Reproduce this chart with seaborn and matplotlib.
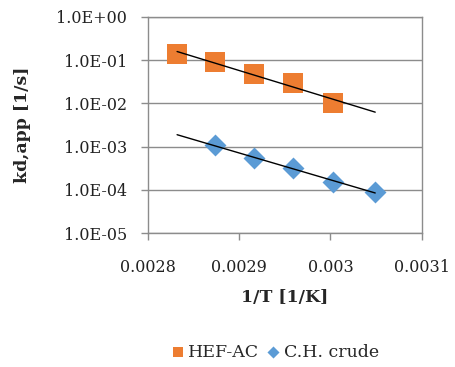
import numpy as np
import pandas as pd
import seaborn as sns
import matplotlib.pyplot as plt

# data
hef_x = [0.002832, 0.002874, 0.002916, 0.002959, 0.003003]
hef_kd = [0.137, 0.091, 0.048, 0.030, 0.010]
ch_x = [0.002874, 0.002916, 0.002959, 0.003003, 0.003049]
ch_kd = [0.00107, 0.000545, 0.000314, 0.000151, 0.0000891]
series_names = ['HEF-AC', 'C.H. crude']
y_ticks = [1e-5, 1e-4, 1e-3, 1e-2, 1e-1, 1e0]
y_tick_labels = ['1.0E-05', '1.0E-04', '1.0E-03', '1.0E-02', '1.0E-01', '1.0E+00']
x_ticks = [0.0028, 0.0029, 0.0030, 0.0031]
x_tick_labels = ['0.0028', '0.0029', '0.003', '0.0031']

df = pd.DataFrame({
    'x': hef_x + ch_x,
    'kd': hef_kd + ch_kd,
    'series': [series_names[0]] * len(hef_x) + [series_names[1]] * len(ch_x),
})

sns.set_theme(style='white')
plt.rcParams['font.family'] = ['DejaVu Serif']

fig = plt.figure(figsize=(4.55, 3.67), dpi=100)
ax = fig.add_axes([0.325, 0.365, 0.602, 0.589])

colors = {'HEF-AC': '#ED7D31', 'C.H. crude': '#5B9BD5'}
markers = {'HEF-AC': 's', 'C.H. crude': 'D'}
sizes = {'HEF-AC': 190, 'C.H. crude': 125}

for name in series_names:
    sub = df[df.series == name]
    sns.scatterplot(data=sub, x='x', y='kd', color=colors[name], marker=markers[name],
                    s=sizes[name], linewidth=0, ax=ax, zorder=3, label=name)

# exponential trendlines over the full x range
tx = np.array([min(df.x), max(df.x)])
for xs, ys in [(hef_x, hef_kd), (ch_x, ch_kd)]:
    b, a = np.polyfit(xs, np.log(ys), 1)
    ax.plot(tx, np.exp(a + b * tx), color='black', lw=1, zorder=4)

ax.set_yscale('log')
ax.set_ylim(1e-5, 1)
ax.set_xlim(0.0028, 0.0031)
ax.set_yticks(y_ticks)
ax.set_yticklabels(y_tick_labels)
ax.set_xticks(x_ticks)
ax.set_xticklabels(x_tick_labels)
ax.minorticks_off()
ax.yaxis.grid(True, color='#8c8c8c', lw=1)
ax.set_axisbelow(True)
for sp in ax.spines.values():
    sp.set_color('#8c8c8c')
    sp.set_linewidth(1)
ax.tick_params(axis='both', direction='out', length=5, color='#8c8c8c',
               labelsize=11.5, labelcolor='#222222', left=True, bottom=True, width=1)
ax.tick_params(axis='x', pad=14)
ax.tick_params(axis='y', pad=10)

ax.set_xlabel('1/T [1/K]', fontsize=12.5, fontweight='bold', labelpad=9)
ax.set_ylabel('kd,app [1/s]', fontsize=12.5, fontweight='bold', labelpad=18)

ax.legend(loc='upper center', bbox_to_anchor=(0.46, -0.44), ncol=2, frameon=False,
          fontsize=12.5, handletextpad=0.1, columnspacing=0.3, markerscale=0.55,
          handlelength=1.0)

fig.savefig('out.png', dpi=100)
